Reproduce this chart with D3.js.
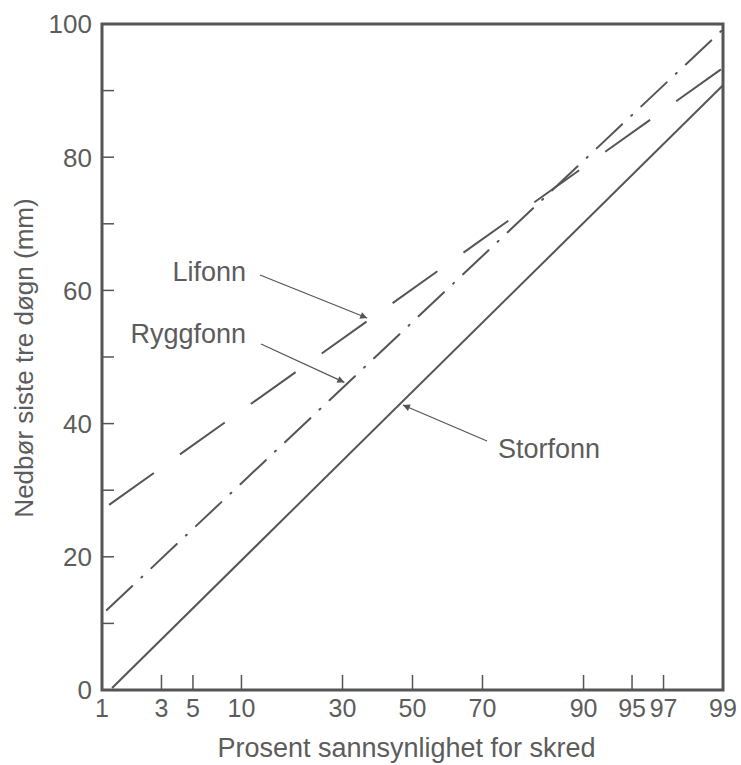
<!DOCTYPE html>
<html>
<head>
<meta charset="utf-8">
<script src="https://cdn.jsdelivr.net/npm/d3@7/dist/d3.min.js"></script>
<style>
  body { margin: 0; background: #fff; }
  svg text { font-family: "Liberation Sans", Arial, sans-serif; fill: #5c5c5c; }
</style>
</head>
<body>
<div id="chart"></div>
<script>
// probability of avalanche (%) vs. precipitation last three days (mm)
var xTicks = [1, 3, 5, 10, 30, 50, 70, 90, 95, 97, 99];
var yTicks = [0, 10, 20, 30, 40, 50, 60, 70, 80, 90, 100];
var yLabels = [0, 20, 40, 60, 80, 100];

var seriesNames = ["Storfonn", "Lifonn", "Ryggfonn"];
var storfonnP = [1.22, 99];
var storfonnMm = [0.3, 90.8];
var lifonnP = [1.15, 99];
var lifonnMm = [27.8, 93.4];
var ryggfonnP = [1.1, 99];
var ryggfonnMm = [12, 99.2];

// where the label arrows touch each line (%)
var arrowP = [46.3, 37.5, 31.2];

var width = 741, height = 765;

// inverse normal cdf (Acklam)
function probit(p) {
  var a = [-3.969683028665376e+01, 2.209460984245205e+02, -2.759285104469687e+02, 1.383577518672690e+02, -3.066479806614716e+01, 2.506628277459239e+00];
  var b = [-5.447609879822406e+01, 1.615858368580409e+02, -1.556989798598866e+02, 6.680131188771972e+01, -1.328068155288572e+01];
  var c = [-7.784894002430293e-03, -3.223964580411365e-01, -2.400758277161838e+00, -2.549732539343734e+00, 4.374664141464968e+00, 2.938163982698783e+00];
  var d = [7.784695709041462e-03, 3.224671290700398e-01, 2.445134137142996e+00, 3.754408661907416e+00];
  var pl = 0.02425, q, r;
  if (p < pl) {
    q = Math.sqrt(-2 * Math.log(p));
    return (((((c[0]*q+c[1])*q+c[2])*q+c[3])*q+c[4])*q+c[5]) / ((((d[0]*q+d[1])*q+d[2])*q+d[3])*q+1);
  }
  if (p <= 1 - pl) {
    q = p - 0.5; r = q * q;
    return (((((a[0]*r+a[1])*r+a[2])*r+a[3])*r+a[4])*r+a[5])*q / (((((b[0]*r+b[1])*r+b[2])*r+b[3])*r+b[4])*r+1);
  }
  q = Math.sqrt(-2 * Math.log(1 - p));
  return -(((((c[0]*q+c[1])*q+c[2])*q+c[3])*q+c[4])*q+c[5]) / ((((d[0]*q+d[1])*q+d[2])*q+d[3])*q+1);
}

var plotLeft = 102, plotRight = 723, plotTop = 24, plotBottom = 690;

var xz = d3.scaleLinear()
    .domain([probit(0.01), probit(0.99)])
    .range([plotLeft, plotRight]);
function x(p) { return xz(probit(p / 100)); }

var y = d3.scaleLinear().domain([0, 100]).range([plotBottom, plotTop]);

var svg = d3.select("#chart").append("svg")
    .attr("width", width)
    .attr("height", height);

var defs = svg.append("defs");
defs.append("marker")
    .attr("id", "head")
    .attr("viewBox", "0 0 10 10")
    .attr("refX", 10).attr("refY", 5)
    .attr("markerWidth", 17).attr("markerHeight", 7)
    .attr("markerUnits", "userSpaceOnUse")
    .attr("orient", "auto")
  .append("path")
    .attr("d", "M0,0L10,5L0,10z")
    .attr("fill", "#555");

var series = [
  {name: seriesNames[0], p: storfonnP, mm: storfonnMm, dash: null, cap: "butt"},
  {name: seriesNames[1], p: lifonnP, mm: lifonnMm, dash: "55,32", cap: "butt"},
  {name: seriesNames[2], p: ryggfonnP, mm: ryggfonnMm, dash: "35,12.5,1.2,12.5", cap: "round"}
];

var line = d3.line()
    .x(function(d) { return x(d[0]); })
    .y(function(d) { return y(d[1]); });

svg.selectAll(".series")
    .data(series)
  .enter().append("path")
    .attr("class", "series")
    .attr("d", function(d) { return line(d3.zip(d.p, d.mm)); })
    .attr("fill", "none")
    .attr("stroke", "#555")
    .attr("stroke-width", 2)
    .attr("stroke-linecap", function(d) { return d.cap; })
    .attr("stroke-dasharray", function(d) { return d.dash; });

// y ticks (inward)
svg.selectAll(".ytick")
    .data(yTicks)
  .enter().append("line")
    .attr("x1", plotLeft).attr("x2", plotLeft + 12)
    .attr("y1", function(d) { return y(d); })
    .attr("y2", function(d) { return y(d); })
    .attr("stroke", "#555").attr("stroke-width", 1.5);

svg.selectAll(".ylab")
    .data(yLabels)
  .enter().append("text")
    .attr("x", plotLeft - 10)
    .attr("y", function(d) { return y(d); })
    .attr("dy", "0.36em")
    .attr("text-anchor", "end")
    .attr("font-size", "26px")
    .text(function(d) { return d; });

// x ticks (inward)
svg.selectAll(".xtick")
    .data(xTicks)
  .enter().append("line")
    .attr("x1", function(d) { return x(d); })
    .attr("x2", function(d) { return x(d); })
    .attr("y1", plotBottom).attr("y2", plotBottom - 15)
    .attr("stroke", "#555").attr("stroke-width", 1.5);

svg.selectAll(".xlab")
    .data(xTicks)
  .enter().append("text")
    .attr("x", function(d) { return x(d); })
    .attr("y", 717)
    .attr("text-anchor", "middle")
    .attr("font-size", "25px")
    .text(function(d) { return d; });

// frame
svg.append("rect")
    .attr("x", plotLeft).attr("y", plotTop)
    .attr("width", plotRight - plotLeft).attr("height", plotBottom - plotTop)
    .attr("fill", "none")
    .attr("stroke", "#555")
    .attr("stroke-width", 3);

// axis titles
svg.append("text")
    .attr("x", (plotLeft + plotRight) / 2 - 6)
    .attr("y", 757)
    .attr("text-anchor", "middle")
    .attr("font-size", "27px")
    .text("Prosent sannsynlighet for skred");

svg.append("text")
    .attr("transform", "translate(33,358) rotate(-90)")
    .attr("text-anchor", "middle")
    .attr("font-size", "26px")
    .text("Nedbør siste tre døgn (mm)");

// labels with arrows
var labelAt = [
  {tx: 498, ty: 458, anchor: "start", ax: 487, ay: 441},
  {tx: 246, ty: 281, anchor: "end", ax: 260, ay: 275},
  {tx: 246, ty: 343, anchor: "end", ax: 261, ay: 344}
];

series.forEach(function(s, i) {
  var lab = labelAt[i];
  var t = d3.scaleLinear().domain([probit(s.p[0] / 100), probit(s.p[1] / 100)]).range(s.mm);
  var px = x(arrowP[i]);
  var py = y(t(probit(arrowP[i] / 100)));
  // stop a few pixels short of the line
  var dx = px - lab.ax, dy = py - lab.ay, len = Math.sqrt(dx * dx + dy * dy);
  var gap = 3;
  svg.append("line")
      .attr("x1", lab.ax).attr("y1", lab.ay)
      .attr("x2", px - dx / len * gap).attr("y2", py - dy / len * gap)
      .attr("stroke", "#555")
      .attr("stroke-width", 1.2)
      .attr("marker-end", "url(#head)");
  svg.append("text")
      .attr("x", lab.tx).attr("y", lab.ty)
      .attr("text-anchor", lab.anchor)
      .attr("font-size", "27px")
      .text(s.name);
});
</script>
</body>
</html>
